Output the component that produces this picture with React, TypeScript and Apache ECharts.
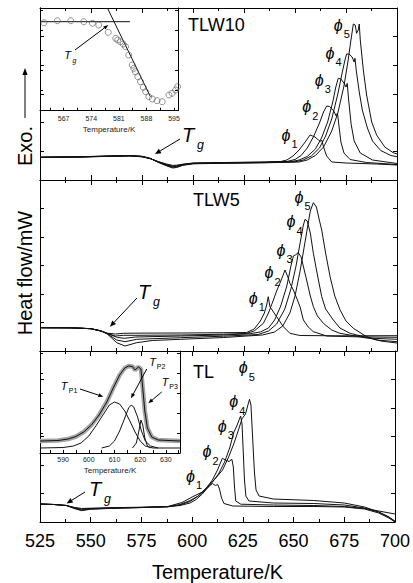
import React, { useEffect, useRef } from 'react';
import * as echarts from 'echarts';

const FONT = '"Liberation Sans", Arial, Helvetica, sans-serif';

// ---------- main x axis ----------
const T_MIN = 525;
const T_MAX = 700;
const T_STEP = 25;

// ---------- TLW10 (top panel), heat flow in arbitrary units ----------
const tlw10Phi1 = [[525,22.7],[545,23],[560,23.7],[569,24],[575,23.2],[579,21.3],[583,18.4],[587,16],[590,14.6],[592,14.8],[595,15.8],[600,17],[615,17.5],[635,18],[643,18.5],[646,20],[649,24],[652,30],[655,38],[657.4,45],[659.8,43],[661.5,40],[662.4,38.5],[663.1,40],[664,33],[665.5,24],[668,18],[675,17],[690,16],[700,15]];
const tlw10Phi2 = [[525,22.7],[545,23],[560,23.8],[569,24.1],[575,23.3],[579,21.4],[583,18.2],[587,15.5],[590,13.9],[592,14.2],[595,15.5],[600,16.8],[615,17.3],[635,17.8],[646,18.5],[650,20.5],[653,24.5],[656,32],[659,43],[662,57],[664,68],[665.5,74],[667,73.5],[669,69],[670.2,64],[670.8,67],[671.5,55],[672.5,38],[674,27],[677,20.5],[685,17.5],[700,15.5]];
const tlw10Phi3 = [[525,22.7],[545,23.1],[560,23.9],[569,24.3],[575,23.5],[579,21.5],[583,18],[587,15],[590,13.3],[592,13.6],[595,15.2],[600,16.6],[615,17.1],[635,17.6],[648,18.3],[652,20],[656,23.5],[660,31],[663,42],[666,58],[668.5,78],[670,93],[671.2,101.7],[672.5,101],[674,97],[675,93],[675.6,96.7],[676.3,80],[677.5,56],[679,39],[682,27],[688,20],[700,16.5]];
const tlw10Phi4 = [[525,22.7],[545,23.2],[560,24],[569,24.4],[575,23.6],[579,21.6],[583,17.8],[587,14.6],[590,12.7],[592,13.1],[595,15],[600,16.4],[615,16.9],[635,17.4],[650,18.2],[654,20],[658,24],[662,32],[665,44],[668,61],[671,86],[673,106],[674.5,120],[675.3,126],[676.5,126],[678,123],[679,118],[679.4,121.7],[680,110],[681.5,88],[683,70],[685.5,52],[688,39],[692,29.5],[697,24.5],[700,23.3]];
const tlw10Phi5 = [[525,22.7],[545,23.3],[560,24.1],[569,24.5],[575,23.7],[579,21.7],[583,17.6],[587,14.2],[590,12],[592,12.5],[595,14.7],[600,16.2],[615,16.7],[635,17.2],[652,18],[656,20],[660,24.5],[664,33],[668,49],[671,67],[674,94],[676,119],[677.5,141],[678.6,156],[679.5,155],[680.2,146.7],[681,150],[681.5,156],[682,140],[683.5,110],[685.1,85],[687.6,58],[690,45],[694,33],[698,27.5],[700,26]];

// ---------- TLW5 (middle panel) ----------
const tlw5Phi1 = [[525,23.3],[540,23.2],[550,22.3],[555,20],[558,17.8],[562,17],[566,17.7],[575,17.9],[595,18],[615,18.3],[626.3,18.5],[630,22],[633,30],[635,38],[636.1,46],[636.9,54.3],[637.7,44.3],[641,34.3],[644.3,24.3],[647.5,17.7],[652.4,15.5],[670,15.2],[700,15.3]];
const tlw5Phi2 = [[525,23.3],[540,23.2],[550,22.3],[555,20],[558,17.6],[562,15],[566,15.7],[572,15.7],[594,16],[615,16.8],[626,17.5],[630,20],[634.5,27.7],[637,38],[639.4,51],[641,60],[642.6,67.7],[644,75],[645.1,81],[646.5,74],[647.5,67.7],[649.2,61],[651,52],[652.5,44],[654.1,31],[656.5,24],[659,19.3],[665.5,15],[680,14.2],[700,13.7]];
const tlw5Phi3 = [[525,23.3],[540,23.2],[550,22.3],[555,20],[558,17.4],[563,13.5],[566.5,12.7],[572,14],[594,15],[615,16],[628,17.3],[633,19],[637,23],[640,31],[643,45],[646,65],[648,85],[649.2,95],[650.3,96.2],[651.6,98.3],[653,94],[655.7,71],[657.5,55],[659,44.3],[661,35],[663.9,27.7],[668,21],[672,17.7],[685,13],[700,11.7]];
const tlw5Phi4 = [[525,23.3],[540,23.2],[550,22.3],[555,20],[558,17.2],[562.6,11],[566.7,9.3],[572.4,11.7],[594,13.3],[615,14.8],[632,16.5],[637,20],[641,27],[645,42],[648,62],[650.5,85],[652.5,108],[654,125],[654.9,131.7],[656,130],[657.5,118],[659,97.7],[661,76],[663.1,54.3],[665,42],[668.8,31],[672,23],[677,17.7],[690,11],[700,9.3]];
const tlw5Phi5 = [[525,23.3],[540,23.2],[550,22.3],[555,20],[558,17],[562.6,8.3],[566.7,5],[572.4,8.3],[580,10.5],[594,11.7],[615,13.5],[634,16],[640,19],[644,25],[647.5,38],[650,55],[652.5,80],[654.5,104],[656,122],[657.5,140],[659,148.3],[660.5,144],[661.8,132],[663.1,121],[665,98],[667.2,74.3],[669.5,55],[672.1,41],[675,30],[678.6,22.7],[685.1,14.3],[692,10],[700,8]];

// ---------- TL (bottom panel) ----------
const tlPhi1 = [[525,18],[532,17.5],[538,16.5],[542,14.6],[545.5,13.5],[550,13.8],[560,14.3],[575,14.8],[588,15.3],[594,16.5],[599,19],[602,22.5],[605,28],[608,35],[610,38.5],[611.5,36.5],[612.6,37.5],[613.5,33],[614.5,24],[615.7,18.5],[620,16],[640,15.5],[660,15.5],[675,15],[685,13],[692,9],[697,4],[700,0]];
const tlPhi2 = [[525,18],[532,17.5],[538,16.5],[542,14.2],[545.5,12.8],[550,13.4],[560,14],[575,14.6],[588,15.2],[594,17],[599,20.5],[603,26],[607,34],[610,42],[612.5,52],[614.9,63.7],[616.5,62],[618.2,60.5],[619.6,62.7],[620.3,55],[620.9,35],[621.5,21],[624,17.8],[640,17],[660,16.5],[675,15.5],[685,13.5],[692,11],[700,8]];
const tlPhi3 = [[525,18],[532,17.5],[538,16.5],[542,13.8],[545.5,12],[550,13],[560,13.8],[575,14.5],[588,15.3],[594,17.5],[599,21.5],[603,26],[607,33],[610,40],[613,48],[616,60],[618.5,74],[620.6,90],[622,96],[623.9,106],[624.6,98],[625.2,70],[625.8,42],[626.5,26],[628,21],[640,19],[660,18.5],[675,17],[685,14],[692,10],[697,5],[700,1]];
const tlPhi4 = [[525,18],[532,17.5],[538,16.5],[542,13.4],[545.5,11.3],[550,12.8],[560,13.6],[575,14.4],[588,15.5],[595,19.5],[600,25],[605,30],[610,40],[615,52],[618,65],[620.5,78],[622.5,90],[624.7,103.7],[626.3,108],[627.5,117],[628.3,122.7],[629,117],[629.8,85],[630.7,50],[631.5,32],[633,26],[640,23],[660,21.5],[675,19],[685,15],[692,10],[697,5],[700,0]];

// ---------- inset 1 (Tg determination) ----------
const inset1Ticks = [567, 574, 581, 588, 595];
const inset1MinorTicks = [563.5, 567, 570.5, 574, 577.5, 581, 584.5, 588, 591.5, 595];
const inset1Points = [[562,88],[565.4,90],[568.8,90],[572.1,89],[574.3,87.4],[575.9,85.7],[578.3,78.4],[580.2,72.4],[580.7,70.7],[581.4,69],[582.1,66.7],[582.7,64],[583.5,55.7],[584.4,45.7],[584.8,42.4],[585.2,39],[585.8,34],[586.5,29],[587.2,23.4],[587.8,19],[588.6,14],[589.5,11.7],[590.7,10],[592,9],[593.7,15.7],[594.5,17.4],[595.4,20.7],[595.9,24]];
const inset1Baseline = [[561,89],[583.8,89]];
const inset1Tangent = [[578.1,102.7],[589,14]];

// ---------- inset 2 (peak separation) ----------
const inset2Ticks = [590, 600, 610, 620, 630];
const inset2MinorTicks = [585, 590, 595, 600, 605, 610, 615, 620, 625, 630, 635];
const inset2Measured = [[581,12],[588,12.5],[592,14],[595,16.5],[598,21],[601,28],[604,38],[607,51],[609.5,65],[612,78],[614,85],[615.5,87],[617,86.5],[618,83],[619.3,86],[620.3,84],[621,65],[621.8,42],[622.8,25],[624.5,16],[627,13],[635.5,12]];
const inset2P1 = [[581,5],[590,5.5],[594,7],[597,10],[600,17],[603,28],[606,40],[608,48],[610,51],[612,49],[614,42],[616,32],[618,21],[620,12],[622,7],[625,5],[635.5,5]];
const inset2P2 = [[605,5],[608,7],[610,12],[612,22],[614,35],[615.5,45],[616.5,48],[617.5,46],[619,36],[620.5,22],[622,12],[624,7],[627,5]];
const inset2P3 = [[617,5],[618.5,10],[619.5,22],[620.3,33],[621,28],[621.8,15],[622.8,7],[624,5]];

// ---------- helpers ----------
const txt = (x: number, y: number, text: string, size: number, italic = false, align = 'center') => ({
  type: 'text', x, y, z: 10,
  style: {
    text, fontSize: size, fontFamily: FONT, fontStyle: italic ? 'italic' : 'normal', fill: '#000',
    align, verticalAlign: 'middle', textAlign: align, textVerticalAlign: 'middle',
  },
});

const arrow = (x1: number, y1: number, x2: number, y2: number, len = 6, w = 2.6) => {
  const a = Math.atan2(y2 - y1, x2 - x1);
  const bx = x2 - len * Math.cos(a);
  const by = y2 - len * Math.sin(a);
  const nx = -Math.sin(a) * w;
  const ny = Math.cos(a) * w;
  return [
    { type: 'line', z: 10, shape: { x1, y1, x2: bx, y2: by }, style: { stroke: '#000', lineWidth: 1 } },
    { type: 'polygon', z: 10, shape: { points: [[x2, y2], [bx + nx, by + ny], [bx - nx, by - ny]] }, style: { fill: '#000' } },
  ];
};

const phi = (x: number, y: number, n: string) => [
  txt(x, y, 'ϕ', 16, true),
  txt(x + 8.5, y + 9, n, 11),
];

const tg = (x: number, y: number, size = 20) => [
  txt(x, y, 'T', size, true),
  txt(x + size * 0.62, y + size * 0.5, 'g', size * 0.62, true),
];

const mainX = (gi: number, pos: 'bottom' | 'top', labels: boolean) => ({
  gridIndex: gi, type: 'value', position: pos, min: T_MIN, max: T_MAX, interval: T_STEP,
  axisLine: { show: true, onZero: false, lineStyle: { color: '#000', width: 1 } },
  axisTick: { show: true, inside: true, length: 5, lineStyle: { color: '#000' } },
  minorTick: { show: true, splitNumber: 2, length: 3, lineStyle: { color: '#000' } },
  splitLine: { show: false },
  axisLabel: labels
    ? { show: true, fontSize: 18, margin: 10, color: '#000', fontFamily: FONT }
    : { show: false },
  ...(labels
    ? { name: 'Temperature/K', nameLocation: 'middle', nameGap: 40, nameTextStyle: { fontSize: 20, color: '#000', fontFamily: FONT } }
    : {}),
});

const mainY = (gi: number, pos: 'left' | 'right', max: number) => ({
  gridIndex: gi, type: 'value', position: pos, min: 0, max, interval: max / 6,
  axisLine: { show: true, onZero: false, lineStyle: { color: '#000', width: 1 } },
  axisTick: { show: true, inside: true, length: 4, lineStyle: { color: '#000' } },
  splitLine: { show: false },
  axisLabel: { show: false },
});

const insetX = (gi: number, min: number, max: number, ticks: number[], minor: number[], margin: number, nameGap: number) => ({
  gridIndex: gi, type: 'value', min, max,
  axisLine: { show: true, onZero: false, lineStyle: { color: '#000', width: 1 } },
  axisTick: { show: true, inside: true, length: 3, customValues: minor, lineStyle: { color: '#000' } },
  splitLine: { show: false },
  axisLabel: { show: true, fontSize: 7, margin, color: '#222', fontFamily: FONT, customValues: ticks },
  name: 'Temperature/K', nameLocation: 'middle', nameGap,
  nameTextStyle: { fontSize: 8, color: '#222', fontFamily: FONT },
});

const insetY = (gi: number, pos: 'left' | 'right', max: number) => ({
  gridIndex: gi, type: 'value', position: pos, min: 0, max, interval: 20,
  axisLine: { show: true, onZero: false, lineStyle: { color: '#000', width: 1 } },
  axisTick: { show: true, inside: true, length: 3, lineStyle: { color: '#000' } },
  splitLine: { show: false },
  axisLabel: { show: false },
});

const line = (data: number[][], xi: number, yi: number, color = '#111', width = 1, z = 3) => ({
  type: 'line', data, xAxisIndex: xi, yAxisIndex: yi, showSymbol: false, symbol: 'none',
  lineStyle: { color, width }, z, silent: true,
});

export default function App() {
  const ref = useRef<HTMLDivElement>(null);
  useEffect(() => {
    document.body.style.margin = '0';
    const chart = echarts.init(ref.current!, null, { renderer: 'svg' });
    const graphic: any[] = [
      txt(188, 25, 'TLW10', 18, false, 'left'),
      txt(193, 200, 'TLW5', 18, false, 'left'),
      txt(193, 372, 'TL', 18, false, 'left'),
      // phi labels top
      ...phi(286, 135, '1'), ...phi(306.7, 106.7, '2'), ...phi(319.3, 80, '3'), ...phi(330, 53.3, '4'), ...phi(338.3, 25, '5'),
      // middle
      ...phi(253.3, 298.3, '1'), ...phi(269, 272.5, '2'), ...phi(281, 250, '3'), ...phi(291, 221.7, '4'), ...phi(299, 197, '5'),
      // bottom
      ...phi(190.5, 476, '1'), ...phi(207, 451.7, '2'), ...phi(222.3, 426, '3'), ...phi(233.7, 401.7, '4'), ...phi(243.3, 367.5, '5'),
      // Tg
      ...tg(188, 135), ...arrow(180, 139, 155, 154),
      ...tg(144, 291.7), ...arrow(137, 298, 110, 326.7),
      ...tg(95, 489), ...arrow(85, 492, 66.7, 503.5),
      // inset 1
      ...tg(67.5, 54.5, 11), ...arrow(75, 50, 108.3, 25, 5, 2),
      // inset 2
      txt(64, 385.8, 'T', 11, true), txt(73, 390, 'P1', 7, false),
      ...arrow(80, 389, 103.3, 396.7, 5, 2),
      txt(152.5, 361.5, 'T', 11, true), txt(161, 366.5, 'P2', 7, false),
      ...arrow(146.7, 369, 131, 398.3, 5, 2),
      txt(165, 381.7, 'T', 11, true), txt(173.5, 386.5, 'P3', 7, false),
      ...arrow(161.7, 392, 148.3, 403.3, 5, 2),
      // y titles
      { type: 'text', x: 25, y: 273, rotation: Math.PI / 2, z: 10,
        style: { text: 'Heat flow/mW', fontSize: 20, fontFamily: FONT, fill: '#000', align: 'center', verticalAlign: 'middle', textAlign: 'center', textVerticalAlign: 'middle' } },
      { type: 'text', x: 25, y: 146, rotation: Math.PI / 2, z: 10,
        style: { text: 'Exo.', fontSize: 20, fontFamily: FONT, fill: '#000', align: 'center', verticalAlign: 'middle', textAlign: 'center', textVerticalAlign: 'middle' } },
      ...arrow(25, 118, 25, 68, 7, 2.6),
    ];

    chart.setOption({
      animation: false,
      backgroundColor: '#fff',
      grid: [
        { left: 40, right: 16, top: 8, height: 172 },
        { left: 40, right: 16, top: 180, height: 171 },
        { left: 40, right: 16, top: 351, height: 171 },
        { left: 40, top: 8, width: 138, height: 102.7 },
        { left: 40, top: 351, width: 140, height: 102 },
      ],
      xAxis: [
        mainX(0, 'bottom', false), mainX(0, 'top', false),
        mainX(1, 'bottom', false), mainX(1, 'top', false),
        mainX(2, 'bottom', true), mainX(2, 'top', false),
        insetX(3, 561, 596, inset1Ticks, inset1MinorTicks, 4, 15),
        insetX(4, 581, 635.5, inset2Ticks, inset2MinorTicks, 3, 13),
      ],
      yAxis: [
        mainY(0, 'left', 172), mainY(0, 'right', 172),
        mainY(1, 'left', 171), mainY(1, 'right', 171),
        mainY(2, 'left', 171), mainY(2, 'right', 171),
        insetY(3, 'left', 102.7), insetY(3, 'right', 102.7),
        insetY(4, 'left', 102), insetY(4, 'right', 102),
      ],
      series: [
        ...[tlw10Phi1, tlw10Phi2, tlw10Phi3, tlw10Phi4, tlw10Phi5].map((d) => line(d, 0, 0)),
        ...[tlw5Phi1, tlw5Phi2, tlw5Phi3, tlw5Phi4, tlw5Phi5].map((d) => line(d, 2, 2)),
        ...[tlPhi1, tlPhi2, tlPhi3, tlPhi4].map((d) => line(d, 4, 4)),
        line(inset1Baseline, 6, 6),
        line(inset1Tangent, 6, 6),
        {
          type: 'scatter', data: inset1Points, xAxisIndex: 6, yAxisIndex: 6, symbol: 'circle', symbolSize: 6,
          itemStyle: { color: 'rgba(255,255,255,0)', borderColor: '#555', borderWidth: 0.8 }, z: 4, silent: true,
        },
        line(inset2Measured, 7, 8, '#a4a4a4', 4.5, 3),
        line(inset2Measured, 7, 8, '#111', 1, 4),
        line(inset2P1, 7, 8, '#111', 1, 4),
        line(inset2P2, 7, 8, '#111', 1, 4),
        line(inset2P3, 7, 8, '#111', 1, 4),
      ],
      graphic,
    });
    return () => chart.dispose();
  }, []);
  return <div ref={ref} style={{ width: 413, height: 583, position: 'absolute', left: 0, top: 0 }} />;
}
